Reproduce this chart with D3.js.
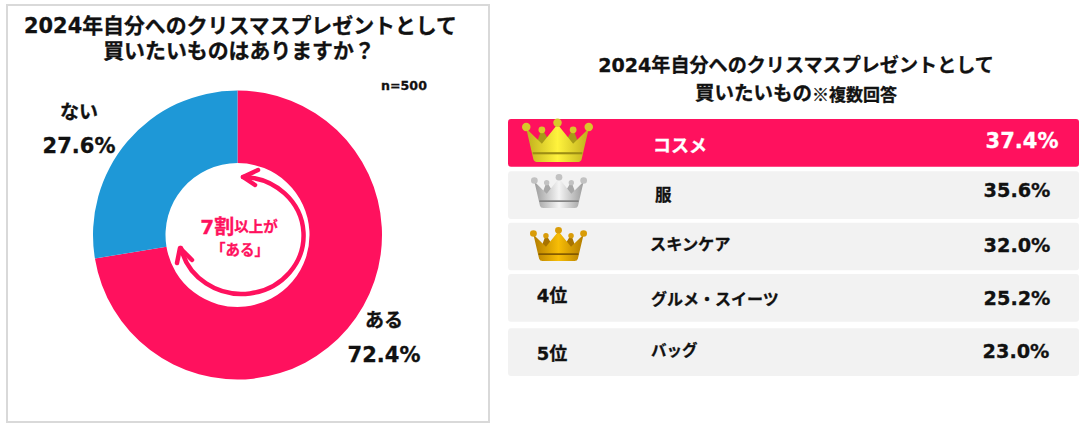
<!DOCTYPE html>
<html>
<head>
<meta charset="utf-8">
<script src="https://cdn.jsdelivr.net/npm/d3@7"></script>
<style>
  html, body { margin: 0; background: #fff; }
  svg { display: block; }
  text { font-family: "DejaVu Sans", "Noto Sans CJK JP", sans-serif; font-weight: 700; fill: #111; stroke-width: 0.3px; }
</style>
</head>
<body>
<div id="chart"></div>
<script>
// donut data
const answers = ["ある", "ない"];
const shares = [72.4, 27.6];

// ranking table data
const ranks = ["1位", "2位", "3位", "4位", "5位"];
const items = ["コスメ", "服", "スキンケア", "グルメ・スイーツ", "バッグ"];
const itemShares = [37.4, 35.6, 32.0, 25.2, 23.0];

const pink = "#ff115e", blue = "#1e98d7";

const svg = d3.select("#chart").append("svg")
  .attr("width", 1083)
  .attr("height", 426);
const defs = svg.append("defs");

// left panel frame
svg.append("rect")
  .attr("x", 7).attr("y", 5)
  .attr("width", 482).attr("height", 417)
  .attr("fill", "#fff")
  .attr("stroke", "#d9d9d9")
  .attr("stroke-width", 2);

function label(x, y, str, size, anchor, fill) {
  return svg.append("text")
    .attr("x", x).attr("y", y)
    .attr("text-anchor", anchor || "middle")
    .attr("dominant-baseline", "central")
    .style("font-size", size + "px")
    .style("fill", fill || "#111")
    .style("stroke", fill || "#111")
    .text(str);
}

label(240.5, 26, "2024年自分へのクリスマスプレゼントとして", 20.9);
label(239, 51, "買いたいものはありますか？", 20.9);
label(404, 85, "n=500", 12.6);

// donut
const pie = d3.pie().sort(null).value(d => d);
const arc = d3.arc().innerRadius(72).outerRadius(144.5);
const color = d3.scaleOrdinal().domain(answers).range([pink, blue]);

svg.append("g")
  .attr("transform", "translate(237.5,235)")
  .selectAll("path")
  .data(pie(shares))
  .join("path")
  .attr("d", arc)
  .attr("fill", (d, i) => color(answers[i]));

label(384, 320, answers[0], 19);
label(384, 355, d3.format(".1f")(shares[0]) + "%", 21);
label(79, 112, answers[1], 19);
label(79, 146, d3.format(".1f")(shares[1]) + "%", 21);

// circular arrow in the hole
const arrow = svg.append("g")
  .attr("fill", "none")
  .attr("stroke", pink)
  .attr("stroke-width", 4.5)
  .attr("stroke-linecap", "round")
  .attr("stroke-linejoin", "round");
arrow.append("path").attr("d", "M243 177 A62 58.5 0 1 1 181 248");
arrow.append("path").attr("d", "M258 170 L243 177 L255 185");
arrow.append("path").attr("d", "M177 263 L180 248 L192 260");

// text in the hole
const inner = svg.append("text")
  .attr("x", 239).attr("y", 227)
  .attr("text-anchor", "middle")
  .attr("dominant-baseline", "central")
  .style("fill", pink)
  .style("stroke", pink);
inner.append("tspan").style("font-size", "20px").text("7割");
inner.append("tspan").style("font-size", "14.5px").text("以上が");
label(240, 250, "「ある」", 14.5, "middle", pink);

// right title
label(796, 65, "2024年自分へのクリスマスプレゼントとして", 19.1);
const sub = svg.append("text")
  .attr("x", 796).attr("y", 93)
  .attr("text-anchor", "middle")
  .attr("dominant-baseline", "central")
  .style("stroke", "#111");
sub.append("tspan").style("font-size", "19.5px").text("買いたいもの");
sub.append("tspan")
  .style("font-family", '"Noto Sans CJK JP"')
  .style("font-size", "17px")
  .text("※複数回答");

// ranking rows
const y = d3.scaleBand()
  .domain(ranks)
  .range([119, 376])
  .paddingInner(0.09)
  .paddingOuter(0);

const rowShift = [0, 0, -1, -2, 0];
const itemSize = [18, 16.5, 16.2, 16, 15.5];
const itemX = [653, 655, 650, 651, 651];
const itemDy = [3, 0, -3, 0, -1];
const valueX = [1022, 1017, 1017, 1017, 1016];
const valueDy = [-2, -5, -2, -1, -1];

svg.append("g")
  .selectAll("rect")
  .data(ranks)
  .join("rect")
  .attr("x", 508)
  .attr("y", (d, i) => y(d) + rowShift[i])
  .attr("width", 571)
  .attr("height", y.bandwidth())
  .attr("rx", 3)
  .attr("fill", (d, i) => i === 0 ? pink : "#f2f2f2");

ranks.forEach((r, i) => {
  const cy = y(r) + y.bandwidth() / 2;
  const fill = i === 0 ? "#fff" : "#111";
  label(itemX[i], cy + itemDy[i], items[i], itemSize[i], "start", fill);
  label(valueX[i], cy + valueDy[i], d3.format(".1f")(itemShares[i]) + "%", i === 0 ? 21 : 19.3, "middle", fill);
  if (i >= 3) label(552, cy + (i === 3 ? -4 : 1), r, 18);
});

// crowns for the top three
const crownColors = [
  { dark: "#bfae1c", light: "#fff33d", band: "#9c8d14", back: "#a89a18", ball: "#d8c82a" },
  { dark: "#9b9b9b", light: "#f4f4f4", band: "#808080", back: "#a8a8a8", ball: "#c2c2c2" },
  { dark: "#b27c00", light: "#f7bd06", band: "#7f5800", back: "#a87400", ball: "#d99c08" }
];
const crownBoxes = [
  { x: 522, y: 120, w: 71, h: 42 },
  { x: 531, y: 175, w: 56, h: 33 },
  { x: 530, y: 228, w: 57, h: 33 }
];

crownColors.forEach((c, i) => {
  const id = "crown" + i;
  const grad = defs.append("linearGradient").attr("id", id);
  grad.append("stop").attr("offset", "0%").attr("stop-color", c.dark);
  grad.append("stop").attr("offset", "50%").attr("stop-color", c.light);
  grad.append("stop").attr("offset", "100%").attr("stop-color", c.dark);

  const b = crownBoxes[i];
  const g = svg.append("g")
    .attr("transform", `translate(${b.x},${b.y}) scale(${b.w / 100},${b.h / 60})`);
  // small spikes behind
  g.append("path").attr("d", "M18 40 L28 12 L42 36 Z M58 36 L72 12 L82 40 Z").attr("fill", c.back);
  // body
  g.append("path")
    .attr("d", "M6 12 L28 34 L50 6 L72 34 L94 12 L84 56 Q83 60 78 60 L22 60 Q17 60 16 56 Z")
    .attr("fill", `url(#${id})`);
  g.append("rect").attr("x", 15).attr("y", 46).attr("width", 70).attr("height", 3).attr("fill", c.band);
  // balls on the tips
  [[6, 10, 6], [28, 14, 4.8], [50, 4, 6], [72, 14, 4.8], [94, 10, 6]].forEach(p => {
    g.append("circle").attr("cx", p[0]).attr("cy", p[1]).attr("r", p[2]).attr("fill", c.ball);
  });
});
</script>
</body>
</html>
